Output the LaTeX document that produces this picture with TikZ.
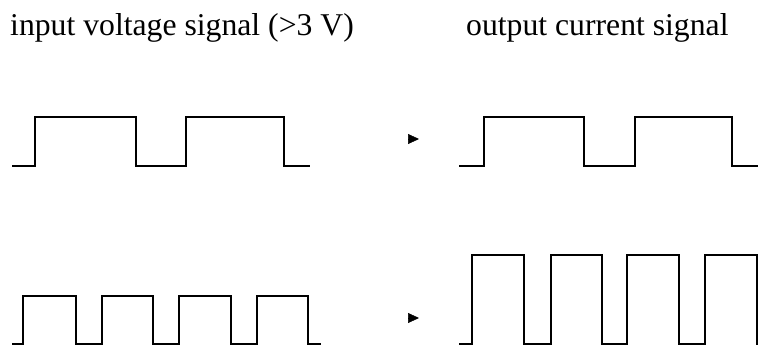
\documentclass[tikz,border=0pt]{standalone}
\usepackage{fontspec}
\setmainfont{Liberation Serif}
\usetikzlibrary{arrows.meta}
\tikzset{
	wave/.style={black, line width=2pt, line join=miter},
	title/.style={anchor=base west, inner sep=0pt, font=\fontsize{31.7}{38}\selectfont},
	tip/.style={-{Triangle[length=11pt, width=10pt]}, line width=0.5pt}
}

\begin{document}
\begin{tikzpicture}[x=1pt, y=-1pt]
\useasboundingbox (0,0) rectangle (763,345);
\node[title] (inlabel) at (10,36) {input voltage signal (>3 V)};
\node[title] (outlabel) at (466,36) {output current signal};
% slow signal
\draw[wave] (12,166) foreach \r/\f in {35/136,186/284}{ -- (\r,166) -- (\r,117) -- (\f,117) -- (\f,166)} -- (310,166);
\draw[wave] (459,166) foreach \r/\f in {484/584,635/732}{ -- (\r,166) -- (\r,117) -- (\f,117) -- (\f,166)} -- (758,166);
% fast signal
\draw[wave] (12,344) foreach \r/\f in {23/76,102/153,179/231,257/308}{ -- (\r,344) -- (\r,296) -- (\f,296) -- (\f,344)} -- (321,344);
\draw[wave] (459,344) foreach \r/\f in {472/524,551/602,627/679,705/757}{ -- (\r,344) -- (\r,255) -- (\f,255) -- (\f,344)} -- (758,344);
% arrows
\coordinate (upA) at (408,139);
\coordinate (upB) at (419,139);
\coordinate (loA) at (408,318);
\coordinate (loB) at (419,318);
\draw[tip] (upA) -- (upB);
\draw[tip] (loA) -- (loB);
\end{tikzpicture}
\end{document}
